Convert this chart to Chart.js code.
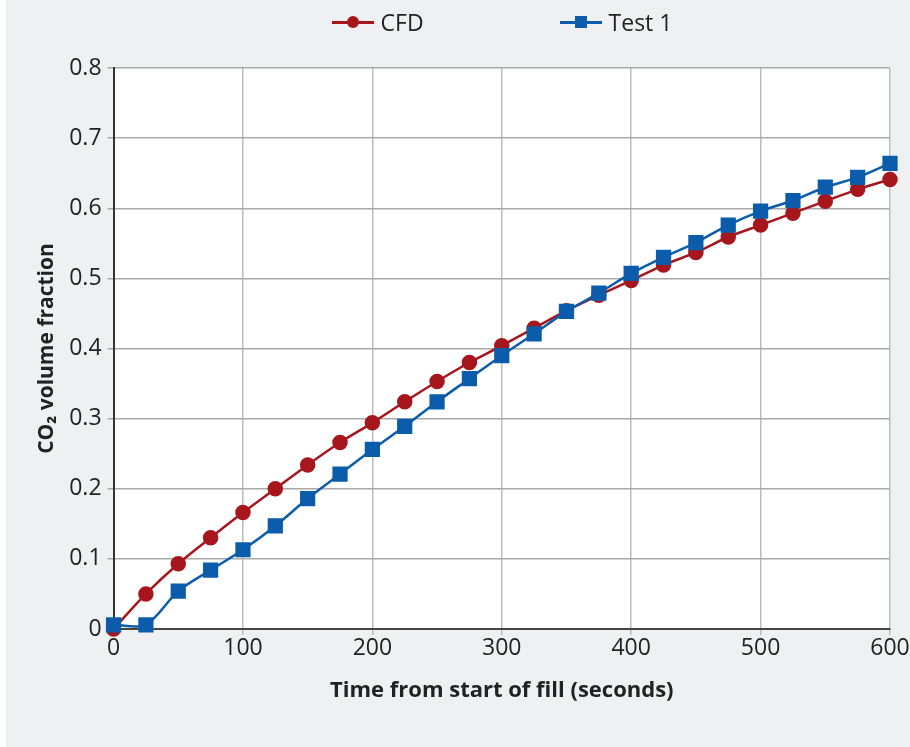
<!DOCTYPE html>
<html lang="en">
<head>
  <meta charset="UTF-8">
  <title>CO2 volume fraction vs time</title>
  <script src="https://cdn.jsdelivr.net/npm/chart.js"></script>
  <style>
    body {
      margin: 0;
      background: #ffffff;
      font-family: "Open Sans", Arial, sans-serif;
    }
    #panel {
      position: absolute;
      left: 6px;
      top: 0;
      width: 904px;
      height: 747px;
      background: #eff0f2;
    }
    #wrap {
      position: absolute;
      left: -6px;
      top: 0;
      width: 910px;
      height: 747px;
    }
    #legend {
      position: absolute;
      top: 6px;
      left: 96px;
      width: 800px;
      display: flex;
      justify-content: center;
      gap: 136px;
      font-size: 23px;
      color: #222;
    }
    .item { display: flex; align-items: center; }
    .icon { position: relative; width: 42px; height: 20px; margin-right: 7px; }
    .icon .ln { position: absolute; left: 0; right: 0; top: 9px; height: 3px; }
    .icon .mk { position: absolute; left: 15px; top: 4px; width: 12px; height: 12px; }
  </style>
</head>
<body>
  <div id="panel">
    <div id="wrap"><canvas id="chart"></canvas></div>
    <div id="legend">
      <div class="item"><div class="icon"><div class="ln" style="background:#a8161d"></div><div class="mk" style="background:#a8161d;border-radius:50%"></div></div>CFD</div>
      <div class="item"><div class="icon"><div class="ln" style="background:#0b5cab"></div><div class="mk" style="background:#0b5cab"></div></div>Test 1</div>
    </div>
  </div>

  <script>
    const times = [0, 25, 50, 75, 100, 125, 150, 175, 200, 225, 250, 275, 300,
                   325, 350, 375, 400, 425, 450, 475, 500, 525, 550, 575, 600];
    const cfd = [0.000, 0.050, 0.093, 0.130, 0.166, 0.200, 0.234, 0.266, 0.294, 0.324, 0.353, 0.380, 0.404,
                 0.429, 0.454, 0.476, 0.497, 0.519, 0.537, 0.559, 0.576, 0.593, 0.610, 0.627, 0.641];
    const test1 = [0.006, 0.006, 0.054, 0.084, 0.113, 0.147, 0.186, 0.221, 0.256, 0.289, 0.324, 0.357, 0.390,
                   0.421, 0.453, 0.479, 0.507, 0.530, 0.551, 0.576, 0.596, 0.611, 0.630, 0.644, 0.664];

    const red = "#a8161d";
    const blue = "#0b5cab";

    const toPoints = ys => times.map((t, i) => ({ x: t, y: ys[i] }));

    // white plot area on the grey panel
    const plotBg = {
      id: "plotBg",
      beforeDraw(chart) {
        const a = chart.chartArea;
        const ctx = chart.ctx;
        ctx.save();
        ctx.fillStyle = "#ffffff";
        ctx.fillRect(a.left, a.top, a.right - a.left, a.bottom - a.top);
        ctx.restore();
      }
    };

    new Chart(document.getElementById("chart"), {
      type: "line",
      data: {
        datasets: [
          {
            label: "CFD",
            data: toPoints(cfd),
            borderColor: red,
            backgroundColor: red,
            borderWidth: 2.5,
            pointStyle: "circle",
            pointRadius: 6.5,
            tension: 0.3,
            order: 1,
            clip: false
          },
          {
            label: "Test 1",
            data: toPoints(test1),
            borderColor: blue,
            backgroundColor: blue,
            borderWidth: 2.5,
            pointStyle: "rect",
            pointRadius: 9,
            tension: 0.3,
            order: 0,
            clip: false
          }
        ]
      },
      options: {
        responsive: true,
        maintainAspectRatio: false,
        animation: false,
        layout: { padding: { top: 68, right: 20, left: 30, bottom: 39 } },
        plugins: {
          legend: { display: false },
          tooltip: { enabled: false }
        },
        scales: {
          x: {
            type: "linear",
            min: 0,
            max: 600,
            ticks: {
              stepSize: 100,
              color: "#222",
              font: { family: "Open Sans", size: 23 },
              padding: 0
            },
            grid: { color: "#bcbcbc", lineWidth: 1.5, tickLength: 6 },
            border: { color: "#444", width: 2 },
            title: {
              display: true,
              text: "Time from start of fill (seconds)",
              color: "#222",
              font: { family: "Open Sans", size: 22, weight: "bold" },
              padding: { top: 15 }
            }
          },
          y: {
            min: 0,
            max: 0.8,
            ticks: {
              stepSize: 0.1,
              color: "#222",
              font: { family: "Open Sans", size: 23 },
              padding: 6,
              callback: v => v === 0 ? "0" : v.toFixed(1)
            },
            grid: { color: "#a9a9a9", lineWidth: 1.5, tickLength: 6 },
            border: { color: "#333", width: 2 },
            title: {
              display: true,
              text: "CO\u2082 volume fraction",
              color: "#222",
              font: { family: "Open Sans", size: 21, weight: "bold" },
              padding: { bottom: 4 }
            }
          }
        }
      },
      plugins: [plotBg]
    });
  </script>
</body>
</html>
